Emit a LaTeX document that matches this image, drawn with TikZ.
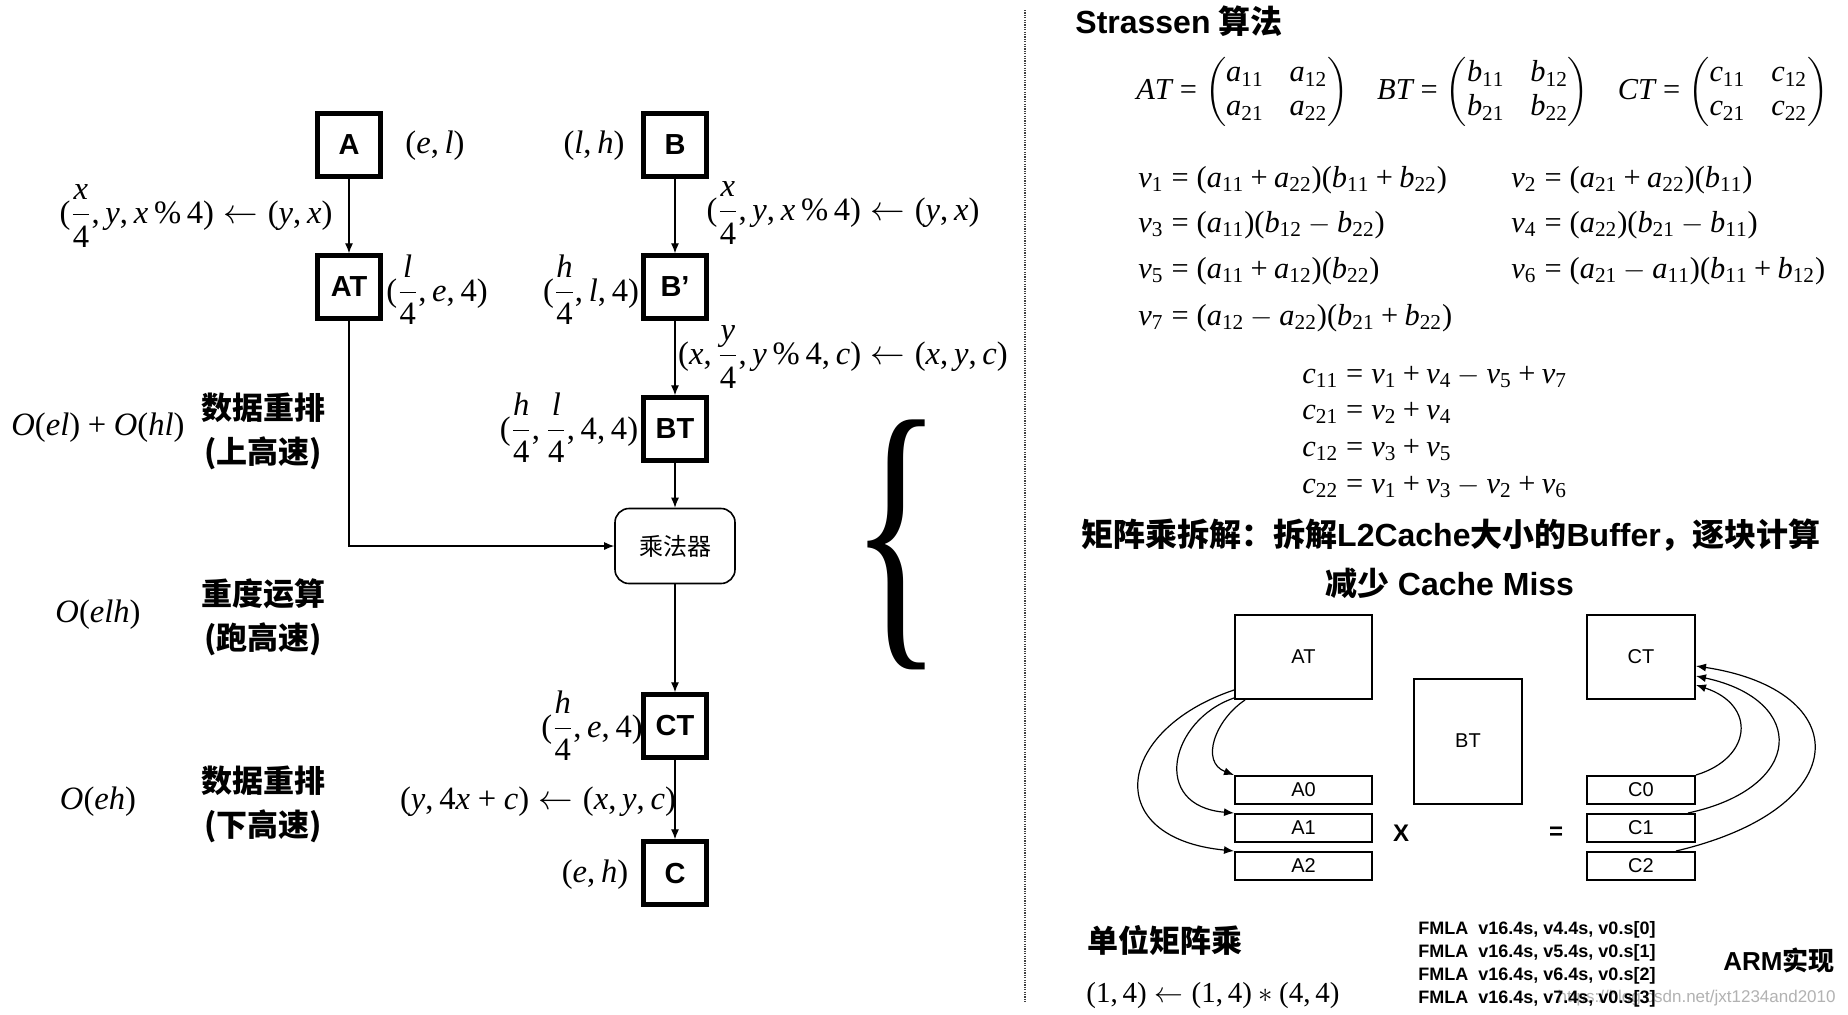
\documentclass[tikz,border=0pt]{standalone}
\usepackage{amsmath}
\usepackage[no-math]{fontspec}
\setmainfont{Liberation Serif}
\newfontfamily\tms{Liberation Serif}[NFSSFamily=tmsx]
\DeclareSymbolFont{letters}{TU}{tmsx}{m}{it}
\DeclareSymbolFont{operators}{TU}{tmsx}{m}{n}
\DeclareMathSymbol{,}{\mathpunct}{operators}{"2C}
\DeclareMathSymbol{.}{\mathord}{operators}{"2E}
\newfontfamily\hv{Liberation Sans}
\newfontfamily\cjk{Noto Sans CJK SC}
\newcommand{\zh}[1]{{\cjk #1}}
\usetikzlibrary{arrows.meta}
\begin{document}
\begin{tikzpicture}[x=0.5pt,y=-0.5pt,
  bx/.style={draw,line width=2.2pt,minimum width=31.5pt,minimum height=31.5pt,inner sep=0pt,font=\hv\bfseries\fontsize{14.5}{16}\selectfont},
  lab/.style={font=\fontsize{16.3}{18}\selectfont,inner sep=0pt},
  rmath/.style={font=\fontsize{15.2}{17}\selectfont,inner sep=0pt,anchor=base west},
  arr/.style={-{Latex[length=5pt,width=4pt]},line width=0.6pt},
  zhb/.style={font=\cjk\bfseries\fontsize{15.5}{18}\selectfont,inner sep=0pt},
  rb/.style={draw,line width=1pt,inner sep=0pt,font=\hv\fontsize{10}{12}\selectfont},
  fm/.style={anchor=west,inner sep=0pt,font=\hv\bfseries\fontsize{9}{10}\selectfont}]
\fill[white] (0,0) rectangle (1848,1014);
\useasboundingbox (0,0) rectangle (1848,1014);

% ---------------- left flow ----------------
\node[bx] (A)  at (349,145) {A};
\node[bx] (AT) at (349,287) {AT};
\node[bx] (B)  at (675,145) {B};
\node[bx] (Bp) at (675,287) {B’};
\node[bx] (BT) at (675,429) {BT};
\node[draw,rounded corners=7pt,line width=0.8pt,minimum width=60pt,minimum height=37.5pt,inner sep=0pt,
      font=\cjk\fontsize{12}{14}\selectfont] (M) at (675,546) {乘法器};
\node[bx] (CT) at (675,726) {CT};
\node[bx] (C)  at (675,873) {C};

\draw[arr] (A) -- (AT);
\draw[arr] (B) -- (Bp);
\draw[arr] (Bp) -- (BT);
\draw[arr] (BT) -- (M);
\draw[arr] (AT) |- (M);
\draw[arr] (M) -- (CT);
\draw[arr] (CT) -- (C);

\node[lab] (lA)  at (435,146) {$(e,l)$};
\node[lab] (lB)  at (594,146) {$(l,h)$};
\node[lab] (t1)  at (196,216) {$(\dfrac{x}{4},y,x\,\%\,4)\leftarrow(y,x)$};
\node[lab] (t2)  at (843,213) {$(\dfrac{x}{4},y,x\,\%\,4)\leftarrow(y,x)$};
\node[lab] (lAT) at (437,290) {$(\dfrac{l}{4},e,4)$};
\node[lab] (lBp) at (591,290) {$(\dfrac{h}{4},l,4)$};
\node[lab] (t3)  at (843,357) {$(x,\dfrac{y}{4},y\,\%\,4,c)\leftarrow(x,y,c)$};
\node[lab] (lBT) at (569,428) {$(\dfrac{h}{4},\dfrac{l}{4},4,4)$};
\node[lab] (lCT) at (592,726) {$(\dfrac{h}{4},e,4)$};
\node[lab] (t4)  at (538,802) {$(y,4x+c)\leftarrow(x,y,c)$};
\node[lab] (lC)  at (595,875) {$(e,h)$};

\node[lab] (o1) at (98,428) {$O(el)+O(hl)$};
\node[zhb] (z1a) at (263,408) {数据重排};
\node[zhb] (z1b) at (263,453) {(上高速)};
\node[lab] (o2) at (98,615) {$O(elh)$};
\node[zhb] (z2a) at (263,594) {重度运算};
\node[zhb] (z2b) at (263,639) {(跑高速)};
\node[lab] (o3) at (98,802) {$O(eh)$};
\node[zhb] (z3a) at (263,781) {数据重排};
\node[zhb] (z3b) at (263,826) {(下高速)};

\node[inner sep=0pt] (brace) at (897,545) {\resizebox*{46pt}{125pt}{\{}};

\draw[line width=0.8pt,dash pattern=on 0.6pt off 0.6pt,black!75] (1025,10) -- (1025,1003);

% ---------------- right part ----------------
\node[anchor=west,inner sep=0pt,font=\bfseries\fontsize{16}{18}\selectfont] (title) at (1075,21) {{\hv Strassen} \zh{算法}};

\node[anchor=west,inner sep=0pt,font=\fontsize{15.2}{17}\selectfont] (mat) at (1136,92)
 {\setlength\arraycolsep{6.5pt}$AT=\begin{pmatrix}a_{11}&a_{12}\\a_{21}&a_{22}\end{pmatrix}\;\;\;
   BT=\begin{pmatrix}b_{11}&b_{12}\\b_{21}&b_{22}\end{pmatrix}\;\;\;
   CT=\begin{pmatrix}c_{11}&c_{12}\\c_{21}&c_{22}\end{pmatrix}$};

\node[rmath] (v1) at (1138,187) {$v_1=(a_{11}+a_{22})(b_{11}+b_{22})$};
\node[rmath] (v2) at (1511,187) {$v_2=(a_{21}+a_{22})(b_{11})$};
\node[rmath] (v3) at (1138,232) {$v_3=(a_{11})(b_{12}-b_{22})$};
\node[rmath] (v4) at (1511,232) {$v_4=(a_{22})(b_{21}-b_{11})$};
\node[rmath] (v5) at (1138,278) {$v_5=(a_{11}+a_{12})(b_{22})$};
\node[rmath] (v6) at (1511,278) {$v_6=(a_{21}-a_{11})(b_{11}+b_{12})$};
\node[rmath] (v7) at (1138,325) {$v_7=(a_{12}-a_{22})(b_{21}+b_{22})$};

\node[rmath] (c1) at (1302,383) {$c_{11}=v_1+v_4-v_5+v_7$};
\node[rmath] (c2) at (1302,419) {$c_{21}=v_2+v_4$};
\node[rmath] (c3) at (1302,456) {$c_{12}=v_3+v_5$};
\node[rmath] (c4) at (1302,493) {$c_{22}=v_1+v_3-v_2+v_6$};

\node[inner sep=0pt,font=\bfseries\fontsize{16}{18}\selectfont] (h1) at (1451,535)
 {\zh{矩阵乘拆解：拆解}{\hv L2Cache}\zh{大小的}{\hv Buffer}\zh{，逐块计算}};
\node[inner sep=0pt,font=\bfseries\fontsize{16}{18}\selectfont] (h2) at (1450,583)
 {\zh{减少} {\hv Cache Miss}};

\node[rb,minimum width=68.5pt,minimum height=42pt] (AT2) at (1303.5,657) {AT};
\node[rb,minimum width=54pt,minimum height=62.5pt] (BT2) at (1468,741) {BT};
\node[rb,minimum width=54pt,minimum height=42pt] (CT2) at (1641,657) {CT};
\node[rb,minimum width=68.5pt,minimum height=14pt] (A0) at (1303.5,790) {A0};
\node[rb,minimum width=68.5pt,minimum height=14pt] (A1) at (1303.5,828) {A1};
\node[rb,minimum width=68.5pt,minimum height=14pt] (A2) at (1303.5,866) {A2};
\node[rb,minimum width=54pt,minimum height=14pt] (C0) at (1641,790) {C0};
\node[rb,minimum width=54pt,minimum height=14pt] (C1) at (1641,828) {C1};
\node[rb,minimum width=54pt,minimum height=14pt] (C2) at (1641,866) {C2};
\node[inner sep=0pt,font=\hv\bfseries\fontsize{12}{12}\selectfont] (times) at (1401,833) {X};
\node[inner sep=0pt,font=\hv\bfseries\fontsize{12}{12}\selectfont] (eq) at (1556,833) {=};

\draw[arr] ([yshift=5pt]AT2.south west) .. controls (1115,730) and (1100,838) .. (A2.north west);
\draw[arr] ([yshift=1pt]AT2.south west) .. controls (1170,720) and (1150,806) .. (A1.north west);
\draw[arr] ([xshift=5.5pt]AT2.south west) .. controls (1215,720) and (1200,762) .. (A0.north west);
\draw[arr] (C0.north east) .. controls (1752,758) and (1757,705) .. ([yshift=-14pt]CT2.east);
\draw[arr] ([xshift=-4pt]C1.north east) .. controls (1805,788) and (1808,700) .. ([yshift=-9.5pt]CT2.east);
\draw[arr] ([xshift=-10pt]C2.north east) .. controls (1858,808) and (1855,690) .. ([yshift=-4.5pt]CT2.east);

\node[zhb] (unit) at (1165,940) {单位矩阵乘};
\node[inner sep=0pt,font=\fontsize{14.5}{15}\selectfont] (ueq) at (1213,996) {$(1,4)\leftarrow(1,4)*(4,4)$};

\node[anchor=east,inner sep=0pt,text=black!30,font=\hv\fontsize{8.5}{9}\selectfont] (wm) at (1836,998) {https://blog.csdn.net/jxt1234and2010};
\node[fm] (f1) at (1418,930) {FMLA\ \ v16.4s, v4.4s, v0.s[0]};
\node[fm] (f2) at (1418,953) {FMLA\ \ v16.4s, v5.4s, v0.s[1]};
\node[fm] (f3) at (1418,976) {FMLA\ \ v16.4s, v6.4s, v0.s[2]};
\node[fm] (f4) at (1418,999) {FMLA\ \ v16.4s, v7.4s, v0.s[3]};
\node[inner sep=0pt,font=\bfseries\fontsize{13}{14}\selectfont] (arm) at (1779,960) {{\hv ARM}\zh{实现}};
\end{tikzpicture}
\end{document}
